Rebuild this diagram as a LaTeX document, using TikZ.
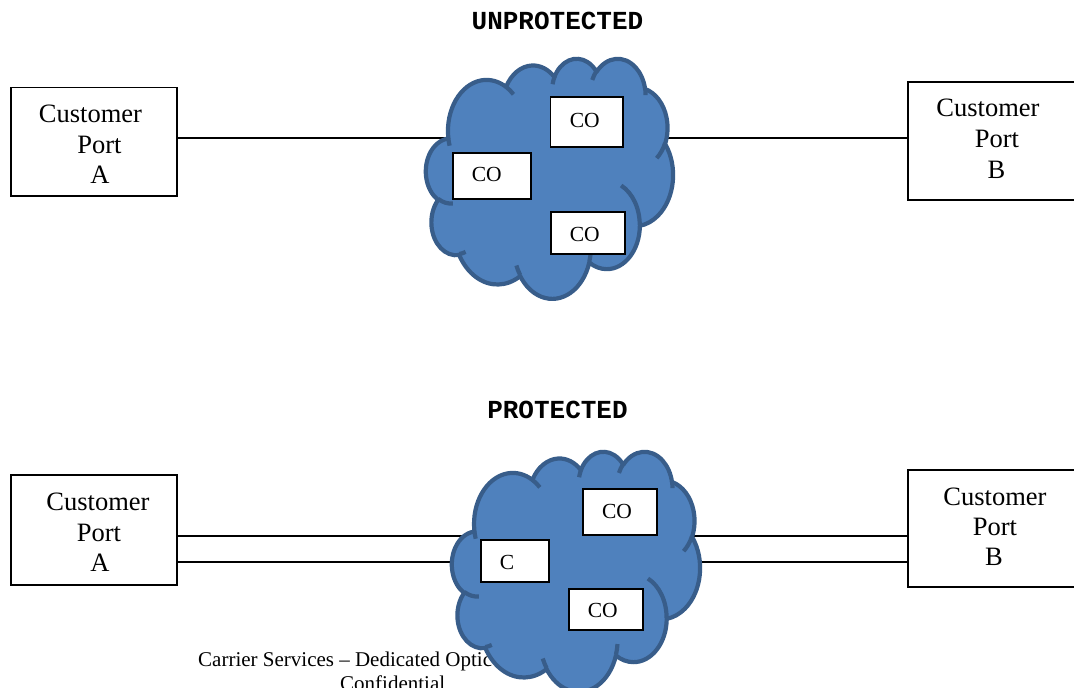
\documentclass[tikz,border=0pt]{standalone}
\usepackage{fontspec}
\setmainfont{Liberation Serif}
\newfontfamily\headfont{Liberation Mono}
\definecolor{cloudfill}{RGB}{79,129,189}
\definecolor{cloudline}{RGB}{56,93,138}
% elliptical arc given by DrawingML-style visual angles
\newcommand\carc[4]{arc[x radius=#1, y radius=#2,
  start angle={atan2((#1)*sin(#3),(#2)*cos(#3))},
  delta angle={mod(atan2((#1)*sin((#3)+(#4)),(#2)*cos((#3)+(#4)))-atan2((#1)*sin(#3),(#2)*cos(#3))+720,360)}]}
\newcommand\drawcloud{%
  \filldraw[cloudsty] (3.9,14.37)
    \carc{6.753}{9.190}{-190.4875}{123.7805}
    \carc{5.333}{7.267}{-144.1024}{89.9452}
    \carc{4.365}{5.945}{-145.8079}{99.7230}
    \carc{4.857}{6.595}{-130.9861}{117.2417}
    \carc{5.333}{7.273}{-78.7089}{109.0269}
    \carc{6.775}{9.220}{-46.2673}{130.2690}
    \carc{5.785}{7.867}{0.6250}{114.0333}
    \carc{6.752}{9.215}{22.4516}{115.1726}
    \carc{7.720}{10.543}{66.2426}{75.7110}
    \carc{4.360}{5.918}{-274.9421}{146.7356}
    \carc{4.345}{5.945}{-246.8285}{152.5189}
    -- cycle;
  \draw[cloudsty, fill=none]
    (4.693,26.177) \carc{4.345}{5.945}{86.7420}{26.4295}
    (6.928,34.899) \carc{4.360}{5.918}{73.6105}{11.4475}
    (16.478,39.090) \carc{6.752}{9.215}{137.6242}{14.0811}
    (28.827,34.751) \carc{6.752}{9.215}{6.4533}{15.9984}
    (34.129,22.954) \carc{5.785}{7.867}{-70.2924}{70.9174}
    (41.798,15.354) \carc{5.333}{7.273}{30.3180}{27.7515}
    (38.324,5.426) \carc{4.857}{6.595}{-13.7443}{14.8589}
    (29.078,3.952) \carc{4.857}{6.595}{-149.1815}{18.1954}
    (22.141,4.720) \carc{4.365}{5.945}{-163.4943}{17.6864}
    (14.000,5.192) \carc{6.753}{9.190}{-66.7070}{12.3194}
    (4.127,15.789) \carc{6.753}{9.190}{157.6544}{11.8582};
}
\tikzset{
  cloudsty/.style={fill=cloudfill, draw=cloudline, line width=4.2pt, line join=round},
  portbox/.style={draw=black, fill=white, line width=1.8pt, rectangle, inner sep=0pt, outer sep=0pt},
  cobox/.style={draw=black, fill=white, line width=1.8pt, rectangle, inner sep=0pt, outer sep=0pt},
  ptext/.style={font=\fontsize{26.5}{30}\selectfont, inner sep=0pt, anchor=base},
  cotext/.style={font=\fontsize{21.5}{24}\selectfont, inner sep=0pt, anchor=base},
  headtext/.style={font=\headfont\bfseries\fontsize{26}{30}\selectfont, inner sep=0pt, anchor=base},
  foottext/.style={font=\fontsize{21}{24}\selectfont, inner sep=0pt, anchor=base west},
  wire/.style={draw=black, line width=1.7pt}
}
\begin{document}
\begin{tikzpicture}[x=1pt, y=-1pt]
\useasboundingbox (0,0) rectangle (1074,688);
% headings
\node[headtext] (hU) at (557.5,29) {UNPROTECTED};
\node[headtext] (hP) at (557.5,418) {PROTECTED};
% footer (partly hidden by the cloud)
\node[foottext] (f1) at (198,666) {Carrier Services \textendash{} Dedicated Optic};
\node[foottext] (f2) at (340,690) {Confidential};
% customer port boxes
\node[portbox, minimum width=166, minimum height=108.5] (pA1) at (94,141.75) {};
\node[portbox, minimum width=180, minimum height=118] (pB1) at (998,141) {};
\node[portbox, minimum width=166, minimum height=109.7] (pA2) at (94,529.85) {};
\node[portbox, minimum width=180, minimum height=117] (pB2) at (998,528.8) {};
% connector end points inside the clouds
\coordinate (c1w) at (460,138);
\coordinate (c1e) at (650,138);
\coordinate (c2wa) at (480,536);
\coordinate (c2wb) at (480,562);
\coordinate (c2ea) at (680,536);
\coordinate (c2eb) at (680,562);
% connectors
\draw[wire] (pA1.east |- c1w) -- (c1w);
\draw[wire] (c1e) -- (pB1.west |- c1e);
\draw[wire] (pA2.east |- c2wa) -- (c2wa);
\draw[wire] (pA2.east |- c2wb) -- (c2wb);
\draw[wire] (c2ea) -- (pB2.west |- c2ea);
\draw[wire] (c2eb) -- (pB2.west |- c2eb);
% clouds
\begin{scope}[shift={(426,58)}, x=5.7176pt, y=-5.5556pt]
  \drawcloud
\end{scope}
\begin{scope}[shift={(452,451)}, x=5.7407pt, y=-5.5556pt]
  \drawcloud
\end{scope}
% central office boxes
\node[cobox, minimum width=72.5, minimum height=50] (co1) at (586.75,122) {};
\node[cobox, minimum width=78.6, minimum height=46] (co2) at (492,176) {};
\node[cobox, minimum width=74.3, minimum height=42] (co3) at (587.85,232.7) {};
\node[cobox, minimum width=74.6, minimum height=46.3] (co4) at (620,511.85) {};
\node[cobox, minimum width=68.3, minimum height=42.6] (co5) at (514.85,561) {};
\node[cobox, minimum width=74.3, minimum height=40.4] (co6) at (605.85,609.5) {};
\node[cotext] (t1) at (584.7,127.3) {CO};
\node[cotext] (t2) at (486.7,181.7) {CO};
\node[cotext] (t3) at (584.7,241) {CO};
\node[cotext] (t4) at (617,518.3) {CO};
\node[cotext] (t5) at (507,569) {C};
\node[cotext] (t6) at (602.8,617.7) {CO};
% customer port texts
\node[ptext] (a11) at (90.5,122) {Customer};
\node[ptext] (a12) at (99.5,153) {Port};
\node[ptext] (a13) at (100,183.3) {A};
\node[ptext] (b11) at (988,116) {Customer};
\node[ptext] (b12) at (997,147.3) {Port};
\node[ptext] (b13) at (996.5,178.3) {B};
\node[ptext] (a21) at (98,510) {Customer};
\node[ptext] (a22) at (99,541) {Port};
\node[ptext] (a23) at (100,571.7) {A};
\node[ptext] (b21) at (995,505) {Customer};
\node[ptext] (b22) at (995,535.5) {Port};
\node[ptext] (b23) at (994,565) {B};
\end{tikzpicture}
\end{document}
